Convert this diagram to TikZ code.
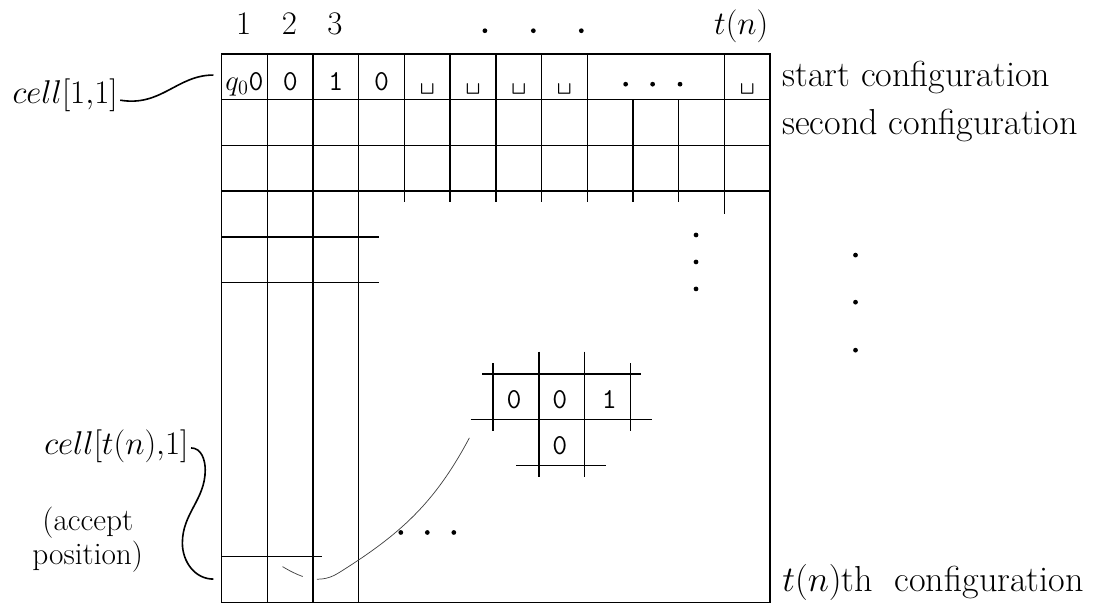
\RequirePackage{fix-cm}
\documentclass[tikz,border=0pt]{standalone}
\usepackage{xcolor}
\usepackage{tikz}
\usetikzlibrary{positioning}

\begin{document}
\begin{tikzpicture}[x=1cm, y=1cm,
    grid/.style={line width=0.9pt},
    lead/.style={line width=0.45pt, black!75},
    hook/.style={line width=1pt},
    num/.style={font=\fontsize{20.5}{24}\selectfont, anchor=base, inner sep=0pt},
    sym/.style={font=\fontsize{18}{20}\selectfont\ttfamily, anchor=base, inner sep=0pt},
    conf/.style={font=\fontsize{22.5}{26}\selectfont, anchor=base west, inner sep=0pt},
    note/.style={font=\fontsize{19.5}{21}\selectfont, align=center, inner sep=0pt}]
    \useasboundingbox (-4.851,1.182) rectangle (19.22,-12.035);
    \def\dotr{0.052}

    % the tableau
    \draw[grid] (0,0) rectangle (12,-12);
    \foreach \x in {1,2,3} \draw[grid] (\x,0) -- (\x,-12);
    \foreach \x in {4,...,8} \draw[grid] (\x,0) -- (\x,-3.23);
    \foreach \x in {9,10} \draw[grid] (\x,-1) -- (\x,-3.23);
    \draw[grid] (11,0) -- (11,-3.5);
    \foreach \y in {1,2,3} \draw[grid] (0,-\y) -- (12,-\y);
    \foreach \y in {4,5} \draw[grid] (0,-\y) -- (3.45,-\y);
    \draw[grid] (0,-11) -- (2.2,-11);

    % column numbers
    \foreach \i in {1,2,3} \node[num] (col-\i) at (\i-0.52,0.42) {$\i$};
    \node[num] (col-t) at (11.37,0.42) {$t(n)$};
    \foreach \x in {5.76,6.82,7.87} \fill (\x,0.51) circle (\dotr);

    % start configuration
    \node[sym] (r1-1) at (0.5,-0.79) {$q_0$0};
    \foreach \s [count=\k from 2] in {0,1,0} \node[sym] (r1-\k) at (\k-0.5,-0.79) {\s};
    \foreach \k in {5,...,8} \node[sym] (r1-\k) at (\k-0.5,-0.79) {\textvisiblespace};
    \node[sym] (r1-12) at (11.5,-0.79) {\textvisiblespace};
    \foreach \x in {8.84,9.43,10.03} \fill (\x,-0.66) circle (\dotr);

    % dots
    \foreach \y in {-3.96,-4.55,-5.14} \fill (10.38,\y) circle (\dotr);
    \foreach \y in {-4.40,-5.43,-6.48} \fill (13.87,\y) circle (\dotr);
    \foreach \x in {3.92,4.50,5.08} \fill (\x,-10.47) circle (\dotr);

    % the window
    \draw[grid] (5.70,-7) -- (9.17,-7);
    \draw[grid] (5.45,-8) -- (9.42,-8);
    \draw[grid] (6.45,-9) -- (8.42,-9);
    \foreach \x in {5.94,8.94} \draw[grid] (\x,-6.77) -- (\x,-8.26);
    \foreach \x in {6.94,7.94} \draw[grid] (\x,-6.51) -- (\x,-9.25);
    \node[sym] (w-1) at (6.40,-7.76) {0};
    \node[sym] (w-2) at (7.40,-7.76) {0};
    \node[sym] (w-3) at (8.48,-7.76) {1};
    \node[sym] (w-4) at (7.40,-8.77) {0};

    \coordinate (lead-a) at (5.42,-8.40);
    \coordinate (lead-b) at (2.55,-11.36);
    \coordinate (lead-c) at (1.13,-11.09);
    \draw[lead] (lead-a) to[out=-118,in=32] (lead-b);
    \draw[lead, dash pattern=on 14pt off 9pt] (lead-b) to[out=212,in=-33] (lead-c);

    % labels on the left
    \node[num, anchor=base east] (cell-11) at (-2.27,-1.09) {$cell[1{,}1]$};
    \coordinate (cell-11-end) at (-0.18,-0.46);
    \draw[hook] ([shift={(0.05,0.08)}]cell-11.base east) .. controls +(0.9,-0.15) and +(-0.8,0) .. (cell-11-end);

    \node[num, anchor=base east] (cell-tn) at (-0.72,-8.77) {$cell[t(n){,}1]$};
    \node[note] (accept) at (-2.93,-10.63) {(accept\\position)};
    \coordinate (cell-tn-end) at (-0.18,-11.49);
    \draw[hook] ([shift={(0.05,0.15)}]cell-tn.base east) to[out=0,in=90] (-0.36,-9.1)
        to[out=-90,in=90] (-0.86,-10.7) to[out=-90,in=180] (cell-tn-end);

    % labels on the right
    \node[conf] (conf-1) at (12.26,-0.72) {start configuration};
    \node[conf] (conf-2) at (12.26,-1.77) {second configuration};
    \node[conf] (conf-n) at (12.26,-11.77) {$t(n)$th\hspace{0.6em}configuration};
\end{tikzpicture}
\end{document}
